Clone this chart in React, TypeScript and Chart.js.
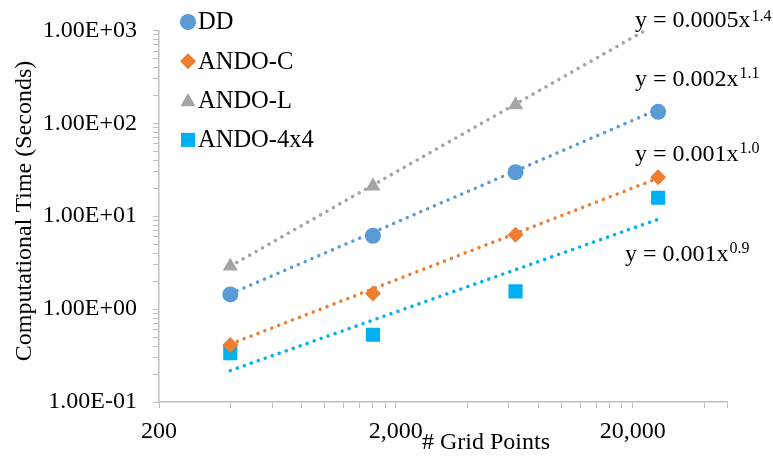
import React, { useEffect, useRef } from 'react';
import { Chart, registerables } from 'chart.js';

Chart.register(...registerables);

// ---- data ----
const gridPoints = [400, 1600, 6400, 25600];
const ddTimes = [1.44, 6.16, 29.7, 133];
const andoCTimes = [0.41, 1.47, 6.3, 26.3];
const andoLGridPoints = [400, 1600, 6400];
const andoLTimes = [2.9, 21.1, 158];
const ando4x4Times = [0.336, 0.53, 1.55, 15.8];

const trendX = [400, 25600];
const ddTrend = [1.46, 141];
const andoCTrend = [0.42, 25.7];
const andoLTrend = [2.9, 1200];
const ando4x4Trend = [0.218, 9.27];

const xMajorTicks = [200, 2000, 20000];
const xTickLabels = ['200', '2,000', '20,000'];
const yMajorTicks = [0.1, 1, 10, 100, 1000];
const yTickLabels = ['1.00E-01', '1.00E+00', '1.00E+01', '1.00E+02', '1.00E+03'];

const seriesNames = ['DD', 'ANDO-C', 'ANDO-L', 'ANDO-4x4'];
const seriesColors = ['#5B9BD5', '#ED7D31', '#A5A5A5', '#00B0F0'];
const trendMain = ['y = 0.0005x', 'y = 0.002x', 'y = 0.001x', 'y = 0.001x'];
const trendSup = ['1.4', '1.1', '1.0', '0.9'];

const FONT = "'Liberation Serif', 'Times New Roman', serif";
const AXIS_GRAY = '#BFBFBF';

function minorTicks(majors: number[], max: number) {
  const out: number[] = [];
  majors.forEach((b) => {
    for (let k = 1; k <= 9; k++) {
      const v = b * k;
      if (v <= max * 1.0000001) out.push(v);
    }
  });
  return out;
}

function drawMarker(ctx: CanvasRenderingContext2D, style: string, x: number, y: number, color: string) {
  ctx.fillStyle = color;
  ctx.beginPath();
  if (style === 'circle') {
    ctx.arc(x, y, 8, 0, Math.PI * 2);
  } else if (style === 'rectRot') {
    ctx.moveTo(x, y - 8);
    ctx.lineTo(x + 8, y);
    ctx.lineTo(x, y + 8);
    ctx.lineTo(x - 8, y);
    ctx.closePath();
  } else if (style === 'triangle') {
    const r = 8.7;
    ctx.moveTo(x, y - r * 0.75 - 1);
    ctx.lineTo(x + r * 0.866, y + r * 0.75 - 1);
    ctx.lineTo(x - r * 0.866, y + r * 0.75 - 1);
    ctx.closePath();
  } else {
    ctx.rect(x - 7, y - 7, 14, 14);
  }
  ctx.fill();
}

const markerStyles = ['circle', 'rectRot', 'triangle', 'rect'];

const overlayPlugin = {
  id: 'overlay',
  afterDraw(chart: any) {
    const ctx: CanvasRenderingContext2D = chart.ctx;
    ctx.save();
    // legend
    ctx.font = `24.5px ${FONT}`;
    ctx.textBaseline = 'middle';
    ctx.textAlign = 'left';
    seriesNames.forEach((name, i) => {
      const y = 22 + i * 39.3;
      drawMarker(ctx, markerStyles[i], 188, y, seriesColors[i]);
      ctx.fillStyle = '#000';
      ctx.fillText(name, 198, y + 1);
    });
    // trendline equations
    const pos = [
      [635, 27, 21],
      [635, 86, 78],
      [635, 161, 153],
      [625, 261, 253],
    ];
    ctx.textBaseline = 'alphabetic';
    trendMain.forEach((t, i) => {
      const [x, yb, ys] = pos[i];
      ctx.font = `24px ${FONT}`;
      ctx.fillStyle = '#000';
      ctx.fillText(t, x, yb);
      const w = ctx.measureText(t).width;
      ctx.font = `16px ${FONT}`;
      ctx.fillText(trendSup[i], x + w + 1, ys);
    });
    // axis titles
    ctx.font = `24px ${FONT}`;
    ctx.textAlign = 'left';
    ctx.fillText('# Grid Points', 422, 449);
    ctx.translate(25, 211);
    ctx.rotate(-Math.PI / 2);
    ctx.textAlign = 'center';
    ctx.textBaseline = 'middle';
    ctx.fillText('Computational Time (Seconds)', 0, 0);
    ctx.restore();
  },
};

export default function App() {
  const ref = useRef<HTMLCanvasElement>(null);
  useEffect(() => {
    document.body.style.margin = '0';
    const xmin = 200, xmax = 50000, ymin = 0.1, ymax = 1000;
    const toPts = (xs: number[], ys: number[]) => xs.map((x, i) => ({ x, y: ys[i] }));
    const trendDs = (ys: number[], color: string) => ({
      type: 'line' as const,
      data: toPts(trendX, ys),
      borderColor: color,
      borderWidth: 3.5,
      borderDash: [0.01, 7.4],
      borderCapStyle: 'round' as const,
      pointRadius: 0,
      showLine: true,
      fill: false,
      order: 2,
    });
    const pointDs = (xs: number[], ys: number[], i: number, radius: number) => ({
      type: 'scatter' as const,
      label: seriesNames[i],
      data: toPts(xs, ys),
      pointStyle: markerStyles[i],
      pointRadius: radius,
      pointBackgroundColor: seriesColors[i],
      pointBorderColor: seriesColors[i],
      pointBorderWidth: 0,
      showLine: false,
      order: 1,
    });
    const chart = new Chart(ref.current!, {
      type: 'scatter',
      data: {
        datasets: [
          pointDs(gridPoints, ddTimes, 0, 8),
          pointDs(gridPoints, andoCTimes, 1, 8),
          pointDs(andoLGridPoints, andoLTimes, 2, 8.7),
          pointDs(gridPoints, ando4x4Times, 3, 10),
          trendDs(andoLTrend, seriesColors[2]),
          trendDs(ddTrend, seriesColors[0]),
          trendDs(andoCTrend, seriesColors[1]),
          trendDs(ando4x4Trend, seriesColors[3]),
        ] as any,
      },
      options: {
        animation: false,
        responsive: false,
        maintainAspectRatio: false,
        layout: { padding: { top: 23, right: 46, left: 0, bottom: 0 } },
        plugins: { legend: { display: false }, tooltip: { enabled: false } },
        scales: {
          x: {
            type: 'logarithmic',
            min: xmin,
            max: xmax,
            afterFit: (s: any) => { s.height = 54; },
            afterBuildTicks: (s: any) => {
              s.ticks = minorTicks(xMajorTicks, xmax).concat([xmax]).map((v) => ({ value: v }));
            },
            ticks: {
              autoSkip: false,
              maxRotation: 0,
              minRotation: 0,
              padding: 9,
              color: '#000',
              font: { family: FONT, size: 24 },
              callback: (v: any) => {
                const idx = xMajorTicks.findIndex((m) => Math.abs(m - v) < 1e-6 * m);
                return idx >= 0 ? xTickLabels[idx] : '';
              },
            },
            grid: { display: true, drawOnChartArea: false, drawTicks: true, tickLength: 6, color: AXIS_GRAY, lineWidth: 1 },
            border: { display: true, color: AXIS_GRAY, width: 1.5 },
          },
          y: {
            type: 'logarithmic',
            min: ymin,
            max: ymax,
            afterFit: (s: any) => { s.width = 159; },
            afterBuildTicks: (s: any) => {
              s.ticks = minorTicks(yMajorTicks, ymax).map((v) => ({ value: v }));
            },
            ticks: {
              autoSkip: false,
              padding: 16,
              color: '#000',
              font: { family: FONT, size: 24 },
              callback: (v: any) => {
                const idx = yMajorTicks.findIndex((m) => Math.abs(m - v) < 1e-6 * m);
                return idx >= 0 ? yTickLabels[idx] : '';
              },
            },
            grid: { display: true, drawOnChartArea: false, drawTicks: true, tickLength: 6, color: AXIS_GRAY, lineWidth: 1 },
            border: { display: true, color: AXIS_GRAY, width: 1.5 },
          },
        },
      } as any,
      plugins: [overlayPlugin],
    });
    return () => chart.destroy();
  }, []);
  return (
    <div style={{ width: 773, height: 456 }}>
      <canvas ref={ref} width={773} height={456} style={{ display: 'block' }} />
    </div>
  );
}
